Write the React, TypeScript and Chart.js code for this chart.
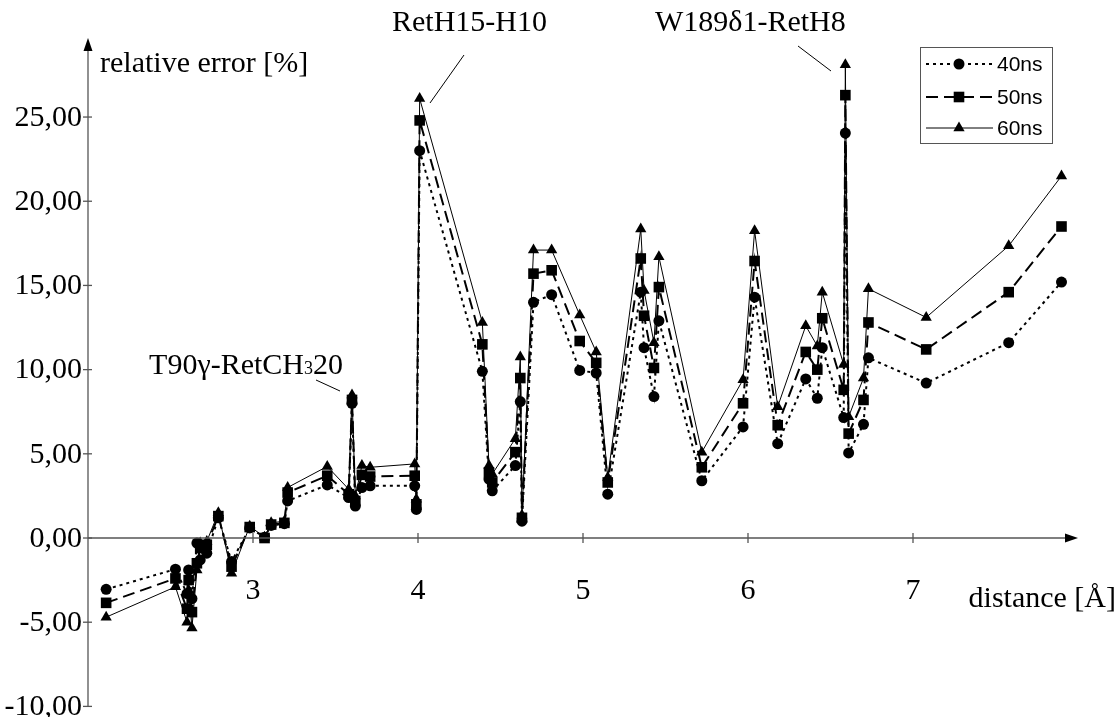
import React, { useEffect, useRef } from "react";
import { Chart, registerables } from "chart.js";

Chart.register(...registerables);

// distance [Å]
const distances = [
  2.11, 2.53, 2.6, 2.61, 2.63, 2.66, 2.68, 2.72, 2.79, 2.87,
  2.98, 3.07, 3.11, 3.19, 3.21, 3.45, 3.58, 3.6, 3.62, 3.66,
  3.71, 3.98, 3.99, 4.01, 4.39, 4.43, 4.45, 4.59, 4.62, 4.63,
  4.7, 4.81, 4.98, 5.08, 5.15, 5.35, 5.37, 5.43, 5.46, 5.72,
  5.97, 6.04, 6.18, 6.35, 6.42, 6.45, 6.58, 6.59, 6.61, 6.7,
  6.73, 7.08, 7.58, 7.9,
];
// relative error [%]
const err40 = [
  -3.05, -1.85, -3.3, -1.9, -3.6, -0.3, -1.3, -0.9, 1.2, -1.4,
  0.6, 0.05, 0.75, 0.85, 2.2, 3.15, 2.4, 8.0, 1.9, 3.0,
  3.1, 3.1, 1.7, 23.0, 9.9, 3.5, 2.8, 4.3, 8.1, 1.0,
  14.0, 14.45, 9.95, 9.8, 2.6, 14.6, 11.3, 8.4, 12.9, 3.4,
  6.6, 14.3, 5.6, 9.45, 8.3, 11.3, 7.15, 24.05, 5.05, 6.75,
  10.7, 9.2, 11.6, 15.2,
];
const err50 = [
  -3.85, -2.4, -4.2, -2.5, -4.4, -1.5, -0.6, -0.4, 1.3, -1.7,
  0.65, 0.0, 0.8, 0.9, 2.7, 3.7, 2.6, 8.2, 2.2, 3.75,
  3.65, 3.7, 2.0, 24.8, 11.5, 3.9, 3.3, 5.1, 9.5, 1.2,
  15.7, 15.9, 11.7, 10.4, 3.3, 16.6, 13.2, 10.1, 14.9, 4.2,
  8.0, 16.45, 6.7, 11.05, 10.0, 13.05, 8.8, 26.3, 6.2, 8.2,
  12.8, 11.2, 14.6, 18.5,
];
const err60 = [
  -4.7, -2.9, -5.0, -3.1, -5.35, -1.9, -0.3, -0.2, 1.5, -2.1,
  0.7, 0.05, 0.9, 1.0, 3.0, 4.25, 2.9, 8.5, 2.5, 4.3,
  4.2, 4.4, 2.3, 26.1, 12.8, 4.3, 3.8, 5.9, 10.75, 1.35,
  17.1, 17.1, 13.25, 11.05, 3.6, 18.35, 14.7, 11.6, 16.7, 5.1,
  9.4, 18.25, 7.8, 12.6, 11.4, 14.6, 10.3, 28.1, 7.2, 9.5,
  14.8, 13.1, 17.35, 21.5,
];

const seriesNames = ["40ns", "50ns", "60ns"];
const yTickValues = [-10, -5, 0, 5, 10, 15, 20, 25];
const xTickValues = [3, 4, 5, 6, 7];
const yAxisTitle = "relative error [%]";
const xAxisTitle = "distance [Å]";

const SERIF = '"Liberation Serif", "Times New Roman", serif';
const SANS = '"Liberation Sans", Arial, sans-serif';
const FS = 30;

const fmt = (v: number) => v.toFixed(2).replace(".", ",");

const axesPlugin = {
  id: "customAxes",
  afterDraw(chart: any) {
    const ctx = chart.ctx;
    const xs = chart.scales.x;
    const ys = chart.scales.y;
    const x0 = xs.getPixelForValue(2);
    const xEnd = xs.getPixelForValue(8);
    const y0 = ys.getPixelForValue(0);
    const yTop = ys.getPixelForValue(29.7);
    const yBot = ys.getPixelForValue(-10);
    ctx.save();
    ctx.strokeStyle = "#555";
    ctx.fillStyle = "#000";
    ctx.lineWidth = 1.3;
    // y axis
    ctx.beginPath();
    ctx.moveTo(x0, yBot);
    ctx.lineTo(x0, yTop + 6);
    ctx.stroke();
    ctx.beginPath();
    ctx.moveTo(x0, yTop);
    ctx.lineTo(x0 - 4.5, yTop + 13);
    ctx.lineTo(x0 + 4.5, yTop + 13);
    ctx.closePath();
    ctx.fill();
    // x axis
    ctx.beginPath();
    ctx.moveTo(x0, y0);
    ctx.lineTo(xEnd - 6, y0);
    ctx.stroke();
    ctx.beginPath();
    ctx.moveTo(xEnd, y0);
    ctx.lineTo(xEnd - 13, y0 - 4.5);
    ctx.lineTo(xEnd - 13, y0 + 4.5);
    ctx.closePath();
    ctx.fill();
    // y ticks
    ctx.font = `${FS}px ${SERIF}`;
    ctx.textAlign = "right";
    ctx.textBaseline = "middle";
    for (const v of yTickValues) {
      const py = ys.getPixelForValue(v);
      ctx.beginPath();
      ctx.moveTo(x0 - 5, py);
      ctx.lineTo(x0 + 4, py);
      ctx.stroke();
      ctx.fillText(fmt(v), x0 - 6, py + 1);
    }
    // x ticks
    ctx.textAlign = "center";
    ctx.textBaseline = "alphabetic";
    for (const v of xTickValues) {
      const px = xs.getPixelForValue(v);
      ctx.beginPath();
      ctx.moveTo(px, y0 - 5);
      ctx.lineTo(px, y0 + 5);
      ctx.stroke();
      ctx.fillText(String(v), px, y0 + 61);
    }
    // axis titles
    ctx.textAlign = "right";
    ctx.fillText(xAxisTitle, 1116, 607);
    ctx.textAlign = "left";
    ctx.fillText(yAxisTitle, 100, 72);

    // annotations
    ctx.fillText("RetH15-H10", 392, 31);
    ctx.fillText("W189δ1-RetH8", 655, 31);
    const part1 = "T90γ-RetCH";
    const sub = "3";
    const part2 = "20";
    const w1 = ctx.measureText(part1).width;
    const w3 = ctx.measureText(part2).width;
    ctx.font = `${Math.round(FS * 0.6)}px ${SERIF}`;
    const w2 = ctx.measureText(sub).width;
    const endX = 343;
    const startX = endX - w1 - w2 - w3;
    const by = 374;
    ctx.fillText(sub, startX + w1, by);
    ctx.font = `${FS}px ${SERIF}`;
    ctx.fillText(part1, startX, by);
    ctx.fillText(part2, startX + w1 + w2, by);

    ctx.strokeStyle = "#000";
    ctx.lineWidth = 1;
    const leaders = [
      [316, 380, 340, 391],
      [464, 55, 430, 103],
      [798, 46, 831, 71],
    ];
    for (const [a, b, c, d] of leaders) {
      ctx.beginPath();
      ctx.moveTo(a, b);
      ctx.lineTo(c, d);
      ctx.stroke();
    }

    // legend
    ctx.strokeStyle = "#555";
    ctx.lineWidth = 1;
    ctx.strokeRect(920.5, 47.5, 132, 96);
    ctx.font = `21px ${SANS}`;
    ctx.textBaseline = "middle";
    const rowsY = [64, 97, 128];
    chart.data.datasets.forEach((ds: any, i: number) => {
      const ry = rowsY[i];
      ctx.save();
      ctx.strokeStyle = "#000";
      ctx.lineWidth = ds.borderWidth;
      ctx.setLineDash(ds.borderDash || []);
      ctx.beginPath();
      ctx.moveTo(926, ry);
      ctx.lineTo(993, ry);
      ctx.stroke();
      ctx.restore();
      ctx.save();
      ctx.fillStyle = "#000";
      const r = ds.pointRadius;
      ctx.beginPath();
      if (ds.pointStyle === "circle") {
        ctx.arc(959, ry, r, 0, Math.PI * 2);
      } else if (ds.pointStyle === "rect") {
        const s = r * Math.SQRT1_2;
        ctx.rect(959 - s, ry - s, 2 * s, 2 * s);
      } else {
        ctx.moveTo(959, ry - r);
        ctx.lineTo(959 + r * 0.866, ry + r / 2);
        ctx.lineTo(959 - r * 0.866, ry + r / 2);
        ctx.closePath();
      }
      ctx.fill();
      ctx.restore();
      ctx.fillStyle = "#000";
      ctx.textAlign = "left";
      ctx.fillText(ds.label, 997, ry + 1);
    });
    ctx.restore();
  },
};

export default function App() {
  const ref = useRef<HTMLCanvasElement | null>(null);
  useEffect(() => {
    if (!ref.current) return;
    const mk = (vals: number[]) => distances.map((x, i) => ({ x, y: vals[i] }));
    const chart = new Chart(ref.current, {
      type: "line",
      data: {
        datasets: [
          {
            label: seriesNames[0],
            data: mk(err40),
            borderColor: "#000",
            backgroundColor: "#000",
            borderWidth: 2,
            borderDash: [3, 4],
            pointStyle: "circle",
            pointRadius: 5.5,
            pointBorderWidth: 0,
            clip: false,
          },
          {
            label: seriesNames[1],
            data: mk(err50),
            borderColor: "#000",
            backgroundColor: "#000",
            borderWidth: 2,
            borderDash: [12, 6],
            pointStyle: "rect",
            pointRadius: 7.5,
            pointBorderWidth: 0,
            clip: false,
          },
          {
            label: seriesNames[2],
            data: mk(err60),
            borderColor: "#000",
            backgroundColor: "#000",
            borderWidth: 1,
            pointStyle: "triangle",
            pointRadius: 6.5,
            pointBorderWidth: 0,
            clip: false,
          },
        ],
      },
      options: {
        animation: false,
        responsive: true,
        maintainAspectRatio: false,
        layout: { padding: { left: 88, right: 39, top: 37.9, bottom: 10.6 } },
        plugins: { legend: { display: false }, tooltip: { enabled: false } },
        scales: {
          x: { type: "linear", min: 2, max: 8, display: false },
          y: { type: "linear", min: -10, max: 29.7, display: false },
        },
      },
      plugins: [axesPlugin],
    } as any);
    return () => chart.destroy();
  }, []);
  return (
    <div style={{ position: "fixed", left: 0, top: 0, width: 1117, height: 717, background: "#fff" }}>
      <canvas ref={ref} />
    </div>
  );
}
